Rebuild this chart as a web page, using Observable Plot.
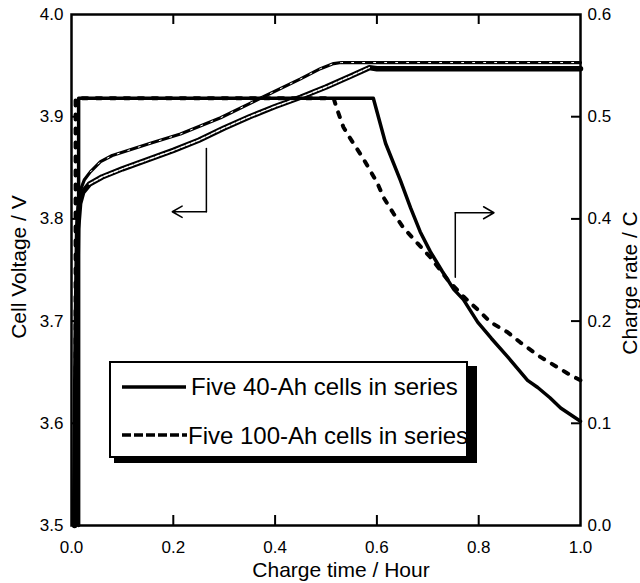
<!DOCTYPE html>
<html><head><meta charset="utf-8">
<script src="https://cdn.jsdelivr.net/npm/d3@7"></script>
<script src="https://cdn.jsdelivr.net/npm/@observablehq/plot@0.6"></script>
<style>
html,body{margin:0;padding:0;background:#fff;}
#chart{width:640px;height:583px;}
</style></head><body><div id="chart"></div>
<script>
// ---- tick values ----
const xTicks = [0.0, 0.2, 0.4, 0.6, 0.8, 1.0];
const voltTicks = [3.5, 3.6, 3.7, 3.8, 3.9, 4.0];
const rateTickLabels = [0.0, 0.1, 0.2, 0.4, 0.5, 0.6]; // as printed on the right axis

// ---- cell voltage, five 40-Ah cells (solid, left axis) ----
const v40Time = [0.006, 0.009, 0.012, 0.016, 0.022, 0.035, 0.06, 0.10, 0.15, 0.20, 0.25, 0.30, 0.35, 0.40, 0.45, 0.50, 0.55, 0.585, 0.60, 0.80, 1.00];
const v40Volt = [3.50, 3.68, 3.79, 3.815, 3.826, 3.834, 3.841, 3.849, 3.858, 3.867, 3.877, 3.889, 3.900, 3.910, 3.919, 3.929, 3.940, 3.948, 3.947, 3.947, 3.947];

// ---- cell voltage, five 100-Ah cells (dashed, left axis) ----
const v100Time = [0.005, 0.008, 0.011, 0.015, 0.025, 0.037, 0.057, 0.08, 0.155, 0.214, 0.293, 0.371, 0.45, 0.489, 0.515, 0.53, 0.60, 0.80, 1.00];
const v100Volt = [3.50, 3.66, 3.80, 3.825, 3.838, 3.846, 3.856, 3.862, 3.874, 3.883, 3.899, 3.918, 3.937, 3.947, 3.952, 3.953, 3.953, 3.953, 3.953];

// ---- charge rate, five 40-Ah cells (solid, right axis) ----
const r40Time = [0.014, 0.014, 0.593, 0.617, 0.646, 0.666, 0.685, 0.705, 0.728, 0.751, 0.770, 0.798, 0.825, 0.857, 0.896, 0.916, 0.940, 0.961, 0.994, 1.0];
const r40Rate = [0.0, 0.518, 0.518, 0.474, 0.438, 0.411, 0.375, 0.336, 0.298, 0.262, 0.242, 0.199, 0.183, 0.165, 0.142, 0.135, 0.125, 0.115, 0.104, 0.102];

// ---- charge rate, five 100-Ah cells (dashed, right axis) ----
const r100Time = [0.008, 0.008, 0.515, 0.522, 0.534, 0.546, 0.572, 0.601, 0.613, 0.633, 0.652, 0.680, 0.705, 0.739, 0.770, 0.804, 0.823, 0.857, 0.882, 0.921, 0.974, 1.0];
const r100Rate = [0.0, 0.518, 0.518, 0.507, 0.490, 0.480, 0.460, 0.435, 0.421, 0.405, 0.383, 0.352, 0.325, 0.281, 0.248, 0.217, 0.199, 0.189, 0.179, 0.165, 0.149, 0.142];

// ---- annotation arrows (data units) ----
const arrowLeftStem = [{t: 0.265, v: 3.869}, {t: 0.265, v: 3.807}];
const arrowLeftHead = [{x1: 0.265, y1: 3.807, x2: 0.198, y2: 3.807}];
const arrowRightStem = [{t: 0.754, v: 3.743}, {t: 0.754, v: 3.806}];
const arrowRightHead = [{x1: 0.754, y1: 3.806, x2: 0.83, y2: 3.806}];

// ---- text ----
const xTitle = "Charge time / Hour";
const yLeftTitle = "Cell Voltage / V";
const yRightTitle = "Charge rate / C";
const legendLabels = ["Five 40-Ah cells in series", "Five 100-Ah cells in series"];

// right axis is printed with uneven labels; map them piecewise onto the plot's y scale
const rateToVolt = d3.scaleLinear().domain(rateTickLabels).range(voltTicks);

const zip = (ts, vs) => ts.map((t, i) => ({t, v: vs[i]}));
const v40 = zip(v40Time, v40Volt);
const v100 = zip(v100Time, v100Volt);
const r40 = zip(r40Time, r40Rate.map(rateToVolt));
const r100 = zip(r100Time, r100Rate.map(rateToVolt));

const W = 640, H = 583, mL = 71, mR = 60, mT = 14, mB = 58;
const innerW = W - mL - mR, innerH = H - mT - mB;
const font = "'Liberation Sans', Arial, Helvetica, sans-serif";

const plot = Plot.plot({
  width: W, height: H,
  marginLeft: mL, marginRight: mR, marginTop: mT, marginBottom: mB,
  style: {fontFamily: font, fontSize: "17px", color: "black", background: "white", overflow: "visible"},
  x: {domain: [0, 1]},
  y: {domain: [3.5, 4.0]},
  marks: [
    Plot.axisX({ticks: xTicks, tickSize: 0, tickPadding: 15, tickFormat: d => d.toFixed(1), label: null, fontSize: 17}),
    Plot.axisY({anchor: "left", ticks: voltTicks, tickSize: 0, tickPadding: 8, tickFormat: d => d.toFixed(1), label: null, fontSize: 17}),
    Plot.axisY({anchor: "right", ticks: rateTickLabels.map(rateToVolt), tickSize: 0, tickPadding: 7,
      tickFormat: d => rateToVolt.invert(d).toFixed(1), label: null, fontSize: 17}),
    // inward ticks
    Plot.tickX(xTicks.slice(1, -1), {x: d => d, insetTop: innerH - 10, strokeWidth: 2}),
    Plot.tickX(xTicks.slice(1, -1), {x: d => d, insetBottom: innerH - 10, strokeWidth: 2}),
    Plot.tickY(voltTicks.slice(1, -1), {y: d => d, insetRight: innerW - 9, strokeWidth: 2}),
    Plot.tickY(rateTickLabels.slice(1, -1).map(rateToVolt), {y: d => d, insetLeft: innerW - 9, strokeWidth: 2}),
    // voltage curves
    Plot.line(v100, {x: "t", y: "v", stroke: "black", strokeWidth: 3.2}),
    Plot.line(v100.filter(d => d.v > 3.84), {x: "t", y: "v", stroke: "white", strokeWidth: 1, strokeDasharray: "2,9"}),
    Plot.line(v40, {x: "t", y: "v", stroke: "black", strokeWidth: 5.5}),
    Plot.line(v40.filter(d => d.v > 3.83 && d.t < 0.59), {x: "t", y: "v", stroke: "white", strokeWidth: 1.5, strokeDasharray: "4,1.5"}),
    // charge-rate curves
    Plot.line(r100, {x: "t", y: "v", stroke: "black", strokeWidth: 4, strokeDasharray: "5,9", strokeLinecap: "round"}),
    Plot.line(r40, {x: "t", y: "v", stroke: "black", strokeWidth: 3.5}),
    // arrows
    Plot.line(arrowLeftStem, {x: "t", y: "v", stroke: "black", strokeWidth: 1.5}),
    Plot.arrow(arrowLeftHead, {x1: "x1", y1: "y1", x2: "x2", y2: "y2", stroke: "black", strokeWidth: 1.5, headLength: 12}),
    Plot.line(arrowRightStem, {x: "t", y: "v", stroke: "black", strokeWidth: 1.5}),
    Plot.arrow(arrowRightHead, {x1: "x1", y1: "y1", x2: "x2", y2: "y2", stroke: "black", strokeWidth: 1.5, headLength: 12}),
    Plot.frame({stroke: "black", strokeWidth: 2.5})
  ]
});

const svg = d3.select(plot);

// axis titles
const tg = svg.append("g").attr("font-family", font).attr("font-size", 21).attr("fill", "black").attr("text-anchor", "middle");
tg.append("text").attr("transform", "translate(25.5,267) rotate(-90)").text(yLeftTitle);
tg.append("text").attr("transform", "translate(637,283) rotate(-90)").text(yRightTitle);
tg.append("text").attr("x", 341).attr("y", 577).text(xTitle);

// legend box with drop shadow
const lg = svg.append("g").attr("font-family", font).attr("font-size", 24).attr("fill", "black").attr("text-anchor", "start");
lg.append("rect").attr("x", 114).attr("y", 366).attr("width", 363).attr("height", 97).attr("fill", "black");
lg.append("rect").attr("x", 110).attr("y", 362).attr("width", 357).attr("height", 95)
  .attr("fill", "white").attr("stroke", "black").attr("stroke-width", 2);
lg.append("line").attr("x1", 122).attr("x2", 186).attr("y1", 387).attr("y2", 387)
  .attr("stroke", "black").attr("stroke-width", 3.5);
lg.append("text").attr("x", 191).attr("y", 395).text(legendLabels[0]);
lg.append("line").attr("x1", 122).attr("x2", 187).attr("y1", 435).attr("y2", 435)
  .attr("stroke", "black").attr("stroke-width", 3.5).attr("stroke-dasharray", "9,3");
lg.append("text").attr("x", 188).attr("y", 444).text(legendLabels[1]);

document.getElementById("chart").appendChild(plot);
</script>
</body></html>
